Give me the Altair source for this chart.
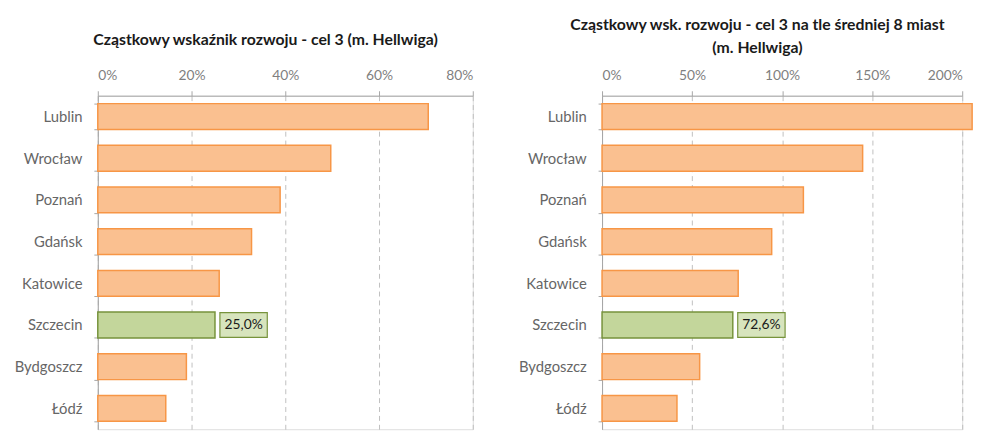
import altair as alt
import pandas as pd

cities = ["Lublin", "Wrocław", "Poznań", "Gdańsk", "Katowice", "Szczecin", "Bydgoszcz", "Łódź"]
left_values = [0.705, 0.497, 0.389, 0.328, 0.259, 0.250, 0.189, 0.145]
right_values = [2.055, 1.447, 1.118, 0.942, 0.756, 0.726, 0.542, 0.416]
highlight = "Szczecin"
left_title = "Cząstkowy wskaźnik rozwoju - cel 3 (m. Hellwiga)"
right_title = ["Cząstkowy wsk. rozwoju - cel 3 na tle średniej 8 miast", "(m. Hellwiga)"]
left_ticks = [0, 0.2, 0.4, 0.6, 0.8]
right_ticks = [0, 0.5, 1.0, 1.5, 2.0]

ORANGE_FILL = "#fac090"
ORANGE_STROKE = "#f79646"
GREEN_FILL = "#c3d69b"
GREEN_STROKE = "#77933c"
LABEL_FILL = "#d7e4bd"
FONT = "Lato"


def panel(values, title, ticks, dmax, width, title_offset, title_dx):
    df = pd.DataFrame({"city": cities, "value": values})
    df["hl"] = df["city"] == highlight
    base = alt.Chart(df)
    y = alt.Y(
        "city:N",
        sort=cities,
        title=None,
        scale=alt.Scale(paddingInner=0.38, paddingOuter=0.19),
        axis=alt.Axis(
            tickBand="extent",
            tickSize=4,
            labelPadding=12,
            minExtent=84,
            maxExtent=84,
            domainColor="#a6a6a6",
            tickColor="#a6a6a6",
            labelColor="#666666",
            labelFontSize=15,
            labelFont=FONT,
            grid=False,
        ),
    )
    x = alt.X(
        "value:Q",
        title=None,
        scale=alt.Scale(domain=[0, dmax], nice=False, zero=True),
        axis=alt.Axis(
            orient="top",
            values=ticks,
            format=".0%",
            grid=True,
            gridDash=[5, 4],
            gridColor="#bfbfbf",
            domainColor="#a6a6a6",
            tickColor="#a6a6a6",
            tickSize=5,
            labelPadding=8,
            labelColor="#7f7f7f",
            labelFontSize=14,
            labelFont=FONT,
        ),
    )
    bars = base.mark_bar(strokeWidth=1.5).encode(
        x=x,
        y=y,
        fill=alt.condition(alt.datum.hl, alt.value(GREEN_FILL), alt.value(ORANGE_FILL)),
        stroke=alt.condition(alt.datum.hl, alt.value(GREEN_STROKE), alt.value(ORANGE_STROKE)),
    )
    box = (
        base.transform_filter(alt.datum.city == highlight)
        .mark_bar(fill=LABEL_FILL, stroke=GREEN_STROKE, strokeWidth=1.2, height=25, xOffset=5, x2Offset=53)
        .encode(x="value:Q", x2="value:Q", y=alt.Y("city:N", sort=cities))
    )
    text = (
        base.transform_filter(alt.datum.city == highlight)
        .transform_calculate(lbl="replace(format(datum.value, '.1%'), '.', ',')")
        .mark_text(dx=29, align="center", baseline="middle", fontSize=14, font=FONT, color="#1a1a1a")
        .encode(x="value:Q", y=alt.Y("city:N", sort=cities), text="lbl:N")
    )
    return alt.layer(bars, box, text).properties(
        width=width,
        height=338,
        title=alt.TitleParams(
            text=title,
            fontSize=16,
            font=FONT,
            fontWeight="bold",
            color="#1a1a1a",
            anchor="middle",
            lineHeight=24,
            offset=title_offset,
            dx=title_dx,
        ),
    )


left = panel(left_values, left_title, left_ticks, 0.8, 380, 21, -20)
right = panel(right_values, right_title, right_ticks, 2.0, 365, 13, -25)

chart = alt.hconcat(left, right, spacing=44).configure_view(stroke=None).configure(font=FONT)

chart.save("out.html", embed_options={"renderer": "svg", "actions": False})
